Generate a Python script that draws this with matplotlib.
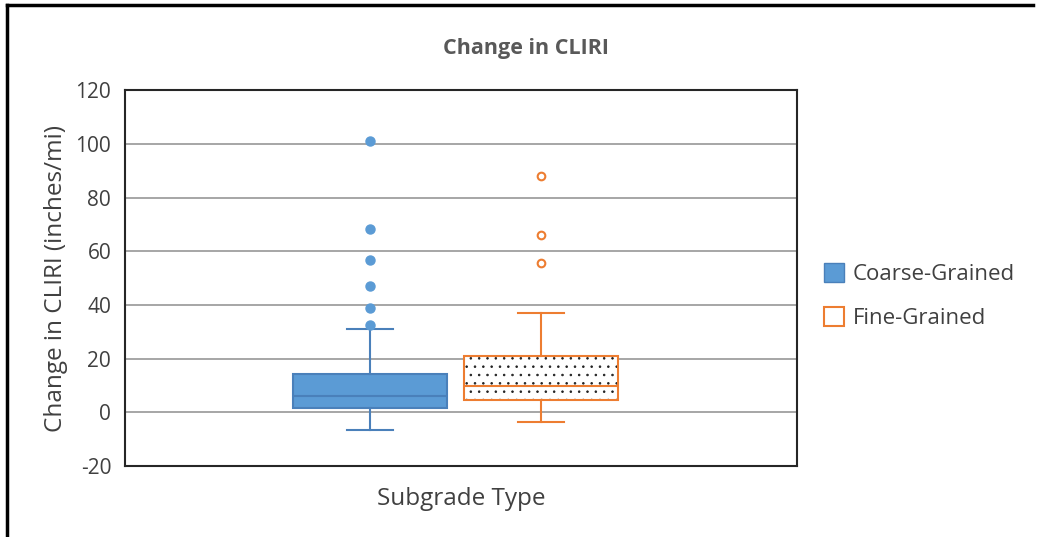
import matplotlib
matplotlib.use("Agg")
import matplotlib.pyplot as plt
from matplotlib.patches import PathPatch, Patch
from matplotlib.lines import Line2D

plt.rcParams['font.family'] = ['Open Sans', 'DejaVu Sans']
plt.rcParams['hatch.linewidth'] = 0.6
plt.rcParams['axes.unicode_minus'] = False

# box statistics (inches/mi)
groups = ['Coarse-Grained', 'Fine-Grained']
q1 = [1.7, 4.5]
med = [6.3, 9.7]
q3 = [14.4, 20.9]
whislo = [-6.7, -3.5]
whishi = [31.0, 37.0]
fliers = [
    [101.2, 68.2, 56.8, 47.0, 38.9, 32.5],
    [88.1, 66.0, 55.5],
]
positions = [1.0, 2.0]

blue = '#5B9BD5'
blue_edge = '#4A80BA'
orange = '#ED7D31'
grid_color = '#A6A6A6'
text_color = '#404040'

fig = plt.figure(figsize=(10.42, 5.37), dpi=100)
ax = fig.add_axes([0.12, 0.132, 0.645, 0.70])

stats = []
for i in range(len(groups)):
    stats.append(dict(label=groups[i], q1=q1[i], med=med[i], q3=q3[i],
                      whislo=whislo[i], whishi=whishi[i], fliers=fliers[i]))

# coarse-grained
b1 = ax.bxp([stats[0]], positions=[positions[0]], widths=0.9,
            patch_artist=True, showfliers=True, manage_ticks=False,
            boxprops=dict(facecolor=blue, edgecolor=blue_edge, linewidth=1.5),
            medianprops=dict(color=blue_edge, linewidth=1.5),
            whiskerprops=dict(color=blue_edge, linewidth=1.5),
            capprops=dict(color=blue_edge, linewidth=1.5),
            capwidths=0.27,
            flierprops=dict(marker='o', markerfacecolor=blue, markeredgecolor=blue,
                            markersize=6.5))

# fine-grained: black dotted hatch inside an orange outline
b2 = ax.bxp([stats[1]], positions=[positions[1]], widths=0.9,
            patch_artist=True, showfliers=True, manage_ticks=False,
            boxprops=dict(facecolor='white', edgecolor='#202020', linewidth=0, hatch='..'),
            medianprops=dict(color=orange, linewidth=1.5),
            whiskerprops=dict(color=orange, linewidth=1.5),
            capprops=dict(color=orange, linewidth=1.5),
            capwidths=0.27,
            flierprops=dict(marker='o', markerfacecolor='white', markeredgecolor=orange,
                            markeredgewidth=1.5, markersize=5.5))
box = b2['boxes'][0]
outline = PathPatch(box.get_path(), facecolor='none', edgecolor=orange,
                    linewidth=1.5, zorder=box.get_zorder() + 0.1)
ax.add_patch(outline)

ax.set_xlim(-0.433, 3.497)
ax.set_ylim(-20, 120)
ax.set_yticks(range(-20, 121, 20))
ax.set_xticks([])
ax.yaxis.grid(True, color=grid_color, linewidth=1.4)
ax.set_axisbelow(True)
ax.tick_params(axis='y', length=0, labelsize=15, labelcolor=text_color, pad=10)
for s in ax.spines.values():
    s.set_color('#262626')
    s.set_linewidth(1.5)

ax.set_ylabel('Change in CLIRI (inches/mi)', fontsize=17.5, color=text_color, labelpad=5)
ax.set_xlabel('Subgrade Type', fontsize=17.5, color=text_color, labelpad=15)

fig.text(0.505, 0.91, 'Change in CLIRI', ha='center', va='center', fontsize=15.5,
         fontweight='bold', color='#595959')

handles = [
    Patch(facecolor=blue, edgecolor=blue_edge, linewidth=1),
    Patch(facecolor='white', edgecolor=orange, linewidth=1.5),
]
ax.legend(handles, groups, loc='center left', bbox_to_anchor=(1.01, 0.452),
          frameon=False, fontsize=16, labelcolor=text_color,
          handlelength=0.9, handleheight=0.9, handletextpad=0.4, labelspacing=1.0)

# chart border (top and left edges visible)
fig.add_artist(Line2D([0.007, 0.991], [0.99, 0.99], color='black', linewidth=2.5,
                      transform=fig.transFigure))
fig.add_artist(Line2D([0.007, 0.007], [0.0, 0.99], color='black', linewidth=2.5,
                      transform=fig.transFigure))

fig.savefig('out.png', dpi=100)
